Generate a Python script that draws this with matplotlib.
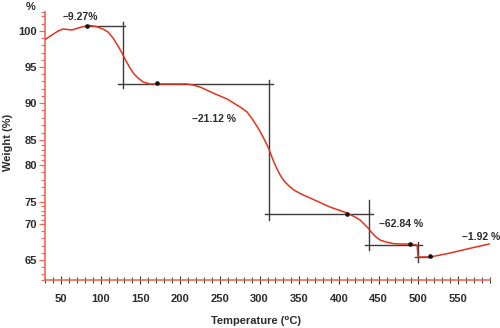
import numpy as np
import matplotlib
matplotlib.use("Agg")
import matplotlib.pyplot as plt
from matplotlib.ticker import FixedLocator, MultipleLocator

# TGA trace: temperature (°C) and residual weight (%)
temperature = [31, 38.8, 46.4, 52.7, 59.0, 64.0, 71.6, 79.1, 86.7, 94.2, 103.0,
               109.3, 115.6, 121.9, 126.9, 132.0, 137.0, 142.0, 147.1, 153.4,
               162.2, 171.0, 187.4, 208.7, 216.3, 225.1, 241.5, 259.1, 275.5,
               284.3, 291.8, 298.1, 304.4, 310.7, 317.0, 320.8, 324.5, 328.3,
               332.1, 337.1, 343.4, 351.0, 363.6, 376.1, 388.7, 410.1, 420.2,
               426.5, 432.8, 436.6, 441.6, 446.6, 451.7, 459.2, 468.0, 476.8,
               489.4, 498.2, 499.5, 504.5, 514.6, 527.2, 539.8, 561.2, 577.5,
               589.0]
weight = [98.89, 99.44, 100.0, 100.27, 100.2, 100.14, 100.41, 100.62, 100.75,
          100.62, 100.27, 99.86, 99.03, 97.92, 96.94, 95.83, 94.86, 94.03,
          93.47, 92.92, 92.64, 92.64, 92.64, 92.64, 92.5, 92.22, 91.39, 90.56,
          89.46, 88.78, 87.70, 86.62, 85.41, 83.6, 81.0, 79.73, 78.92, 78.24,
          77.70, 77.16, 76.62, 76.15, 75.54, 74.89, 73.86, 72.50, 71.59, 70.91,
          69.86, 69.44, 68.75, 68.19, 67.78, 67.5, 67.29, 67.22, 67.22, 67.08,
          65.42, 65.42, 65.42, 65.69, 65.97, 66.53, 66.94, 67.22]

# Step construction lines (horizontal: weight level, from/to temperature)
hline_weight = [100.62, 92.64, 72.27, 67.08, 65.42]
hline_t0 = [80.4, 121.9, 306.9, 432.8, 495.7]
hline_t1 = [130.7, 317.0, 442.9, 504.5, 517.1]
# (vertical: temperature, from/to weight)
vline_temp = [127.6, 312.0, 437.8, 499.5]
vline_w0 = [101.23, 93.19, 75.27, 67.5]
vline_w1 = [92.08, 70.91, 66.39, 64.72]

# Weight-loss annotations
loss_labels = ["\u20139.27%", "\u201321.12 %", "\u201362.84 %", "\u20131.92 %"]
loss_temp = [74.1, 242.7, 478.1, 578.8]
loss_weight = [101.92, 87.84, 70.0, 68.19]

# Event markers on the trace
event_temp = [82.9, 171.0, 410.1, 489.4, 514.6]
event_weight = [100.62, 92.75, 72.27, 67.22, 65.6]

x_ticks = [50, 100, 150, 200, 250, 300, 350, 400, 450, 500, 550]
y_ticks = [65, 70, 75, 80, 85, 90, 95, 100]

# Weight axis is drawn with uneven spacing between its labelled values
knot_w = np.array([62.2, 65, 70, 75, 80, 85, 90, 95, 100, 102.6])
knot_p = np.array([0, 20, 56, 78, 115, 140, 177, 213, 249, 268], dtype=float)


def w_forward(v):
    return np.interp(v, knot_w, knot_p)


def w_inverse(p):
    return np.interp(p, knot_p, knot_w)


RED = "#e2321f"
AXRED = "#ef6a55"
INK = "#2b2b2b"
FONT = ["Liberation Sans", "DejaVu Sans"]

plt.rcParams["font.family"] = FONT
plt.rcParams["font.weight"] = "bold"

fig = plt.figure(figsize=(5.0, 3.28), dpi=100)
ax = fig.add_axes([0.09, 0.1463, 0.89, 0.8171])
ax.set_yscale("function", functions=(w_forward, w_inverse))
ax.set_xlim(30, 590)
ax.set_ylim(62.2, 102.6)

ax.plot(temperature, weight, color=RED, lw=1.1, zorder=3,
        solid_joinstyle="round")

for w, t0, t1 in zip(hline_weight, hline_t0, hline_t1):
    ax.plot([t0, t1], [w, w], color="#3a3a3a", lw=1.0, zorder=2)
for t, w0, w1 in zip(vline_temp, vline_w0, vline_w1):
    ax.plot([t, t], [w0, w1], color="#3a3a3a", lw=1.0, zorder=2)

ax.plot(event_temp, event_weight, linestyle="none", marker="o", ms=2.3,
        color="#111111", zorder=4)

for lab, t, w in zip(loss_labels, loss_temp, loss_weight):
    ax.text(t, w, lab, ha="center", va="center", fontsize=7.5,
            fontweight="bold", color=INK, family=FONT)

for s in ("top", "right"):
    ax.spines[s].set_visible(False)
for s in ("left", "bottom"):
    ax.spines[s].set_color(AXRED)
    ax.spines[s].set_linewidth(1.2)

ax.xaxis.set_major_locator(FixedLocator(x_ticks))
ax.xaxis.set_minor_locator(MultipleLocator(10))
ax.yaxis.set_major_locator(FixedLocator(y_ticks))
ax.yaxis.set_minor_locator(MultipleLocator(1))

ax.tick_params(axis="x", which="major", direction="inout", length=6,
               width=0.8, color="#333333", pad=7, labelsize=8,
               labelcolor=INK)
ax.tick_params(axis="x", which="minor", direction="inout", length=4,
               width=0.7, color="#333333")
ax.tick_params(axis="y", which="major", direction="out", length=4,
               width=0.9, color=AXRED, pad=2, labelsize=8, labelcolor=INK)
ax.tick_params(axis="y", which="minor", direction="out", length=3,
               width=0.8, color=AXRED)
for lab in ax.get_xticklabels() + ax.get_yticklabels():
    lab.set_fontweight("bold")

fig.text(8 / 500, 1 - 142 / 328, "Weight (%)", rotation=90, ha="center",
         va="center", fontsize=8, fontweight="bold", color=INK)
fig.text(256 / 500, 1 - 321 / 328, "Temperature (\u2070C)", ha="center",
         va="center", fontsize=8, fontweight="bold", color=INK)
fig.text(31 / 500, 1 - 7 / 328, "%", ha="center", va="center", fontsize=8,
         fontweight="bold", color=INK)

fig.savefig("out.png", dpi=100, facecolor="white")
